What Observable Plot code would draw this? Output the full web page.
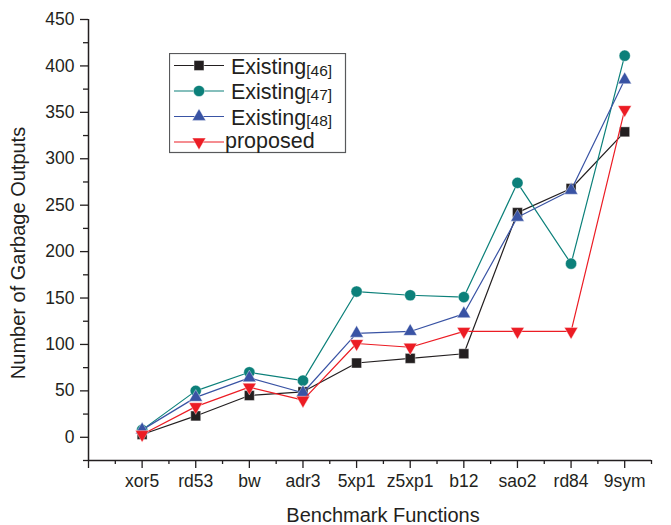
<!DOCTYPE html>
<html><head><meta charset="utf-8">
<script src="https://cdn.jsdelivr.net/npm/d3@7"></script>
<script src="https://cdn.jsdelivr.net/npm/@observablehq/plot@0.6"></script>
<style>
body{margin:0;background:#fff;font-family:Arial,"Liberation Sans",sans-serif;}
#wrap{position:relative;width:671px;height:525px;}
#legend{position:absolute;left:169px;top:53px;}
</style></head><body><div id="wrap"></div>
<script>
const benchmarks = ["xor5","rd53","bw","adr3","5xp1","z5xp1","b12","sao2","rd84","9sym"];
const existing46 = [3, 23, 45, 49, 80, 85, 90, 242, 268, 329];
const existing47 = [8, 50, 70, 61, 157, 153, 151, 274, 187, 411];
const existing48 = [8, 43, 64, 48, 112, 114, 133, 237, 266, 385];
const proposed   = [3, 33, 54, 40, 101, 97, 114, 114, 114, 353];
const seriesLabels = ["Existing", "Existing", "Existing", "proposed"];
const seriesRefs = ["[46]", "[47]", "[48]", ""];
const yTicks = [0, 50, 100, 150, 200, 250, 300, 350, 400, 450];
const yMinorTicks = [-25, 25, 75, 125, 175, 225, 275, 325, 375, 425];
const xTicks = [0, 1, 2, 3, 4, 5, 6, 7, 8, 9, 10];
const xMinorTicks = [0.5, 1.5, 2.5, 3.5, 4.5, 5.5, 6.5, 7.5, 8.5, 9.5, 10.5];
const xTitle = "Benchmark Functions";
const yTitle = "Number of Garbage Outputs";

const ink = "#231f20";
const colors = ["#231f20", "#0c807a", "#3953a4", "#ec1c24"];
const triangleDown = {
  draw(ctx, size) {
    const s3 = Math.sqrt(3);
    const y = -Math.sqrt(size / (s3 * 3));
    ctx.moveTo(0, -y * 2);
    ctx.lineTo(-s3 * y, y);
    ctx.lineTo(s3 * y, y);
    ctx.closePath();
  }
};
const symbols = ["square", "circle", "triangle", triangleDown];
const radii = [5.6, 5.6, 5, 5];

const allValues = [existing46, existing47, existing48, proposed];
const seriesData = allValues.map(vals => vals.map((v, i) => ({x: i + 1, y: v, name: benchmarks[i]})));

const seriesMarks = seriesData.flatMap((data, s) => [
  Plot.line(data, {x: "x", y: "y", stroke: colors[s], strokeWidth: 1.2}),
  Plot.dot(data, {x: "x", y: "y", symbol: symbols[s], r: radii[s], fill: colors[s], stroke: "white", strokeWidth: 0.4})
]);

const chart = Plot.plot({
  width: 671, height: 525,
  marginLeft: 88, marginRight: 20, marginTop: 19, marginBottom: 65,
  style: {fontFamily: "Arial, 'Liberation Sans', sans-serif", background: "white", color: ink},
  x: {domain: [0, 10.5], axis: null},
  y: {domain: [-25, 450], axis: null},
  marks: [
    Plot.axisY(yTicks, {tickSize: 8, tickPadding: 6, fontSize: 17.5, label: null, color: ink, strokeWidth: 1.3}),
    Plot.axisY(yMinorTicks, {tickSize: 5, tickFormat: () => "", label: null, color: ink, strokeWidth: 1.3}),
    Plot.axisX(xTicks, {tickSize: 8, tickPadding: 6, fontSize: 17.5, tickFormat: i => benchmarks[i - 1] ?? "", label: null, color: ink, strokeWidth: 1.3}),
    Plot.axisX(xMinorTicks, {tickSize: 4, tickFormat: () => "", label: null, color: ink, strokeWidth: 1.3}),
    Plot.ruleX([0], {y1: -25, y2: 450, stroke: ink, strokeWidth: 1.5}),
    Plot.ruleY([-25], {x1: 0, x2: 10.5, stroke: ink, strokeWidth: 1.5}),
    ...seriesMarks,
    Plot.text([xTitle], {text: d => d, frameAnchor: "bottom", textAnchor: "middle", lineAnchor: "middle", dy: 55, dx: 13, fontSize: 20, fill: ink}),
    Plot.text([yTitle], {text: d => d, frameAnchor: "left", textAnchor: "middle", lineAnchor: "middle", rotate: -90, dx: -70, dy: 13, fontSize: 20, fill: ink})
  ]
});
const wrap = document.getElementById("wrap");
wrap.appendChild(chart);

// legend overlay
const lw = 177, lh = 100;
const rowY = [12.5, 38, 63.5, 89];
const leg = d3.select(wrap).append("svg").attr("id", "legend").attr("width", lw + 1).attr("height", lh + 1)
  .style("font-family", "Arial, 'Liberation Sans', sans-serif");
leg.append("rect").attr("x", 0.5).attr("y", 0.5).attr("width", lw - 1).attr("height", lh - 1)
  .attr("fill", "white").attr("stroke", "#58595b").attr("stroke-width", 1.2);
seriesLabels.forEach((lab, s) => {
  const g = leg.append("g").attr("transform", `translate(0,${rowY[s]})`);
  g.append("line").attr("x1", 5).attr("x2", 55).attr("y1", 0).attr("y2", 0).attr("stroke", colors[s]).attr("stroke-width", 1.2);
  const sym = typeof symbols[s] === "string" ? {square: d3.symbolSquare, circle: d3.symbolCircle, triangle: d3.symbolTriangle}[symbols[s]] : symbols[s];
  g.append("path").attr("transform", "translate(30,0)")
    .attr("d", d3.symbol(sym, Math.PI * radii[s] * radii[s])())
    .attr("fill", colors[s]).attr("stroke", "white").attr("stroke-width", 0.4);
  const t = g.append("text").attr("x", s === 3 ? 56 : 62).attr("y", s === 3 ? 6 : 8).attr("font-size", 21.5).attr("fill", ink).text(lab);
  if (seriesRefs[s]) t.append("tspan").attr("font-size", 15.5).attr("dy", s === 0 ? 2 : 1).text(seriesRefs[s]);
});
</script>
</body></html>
